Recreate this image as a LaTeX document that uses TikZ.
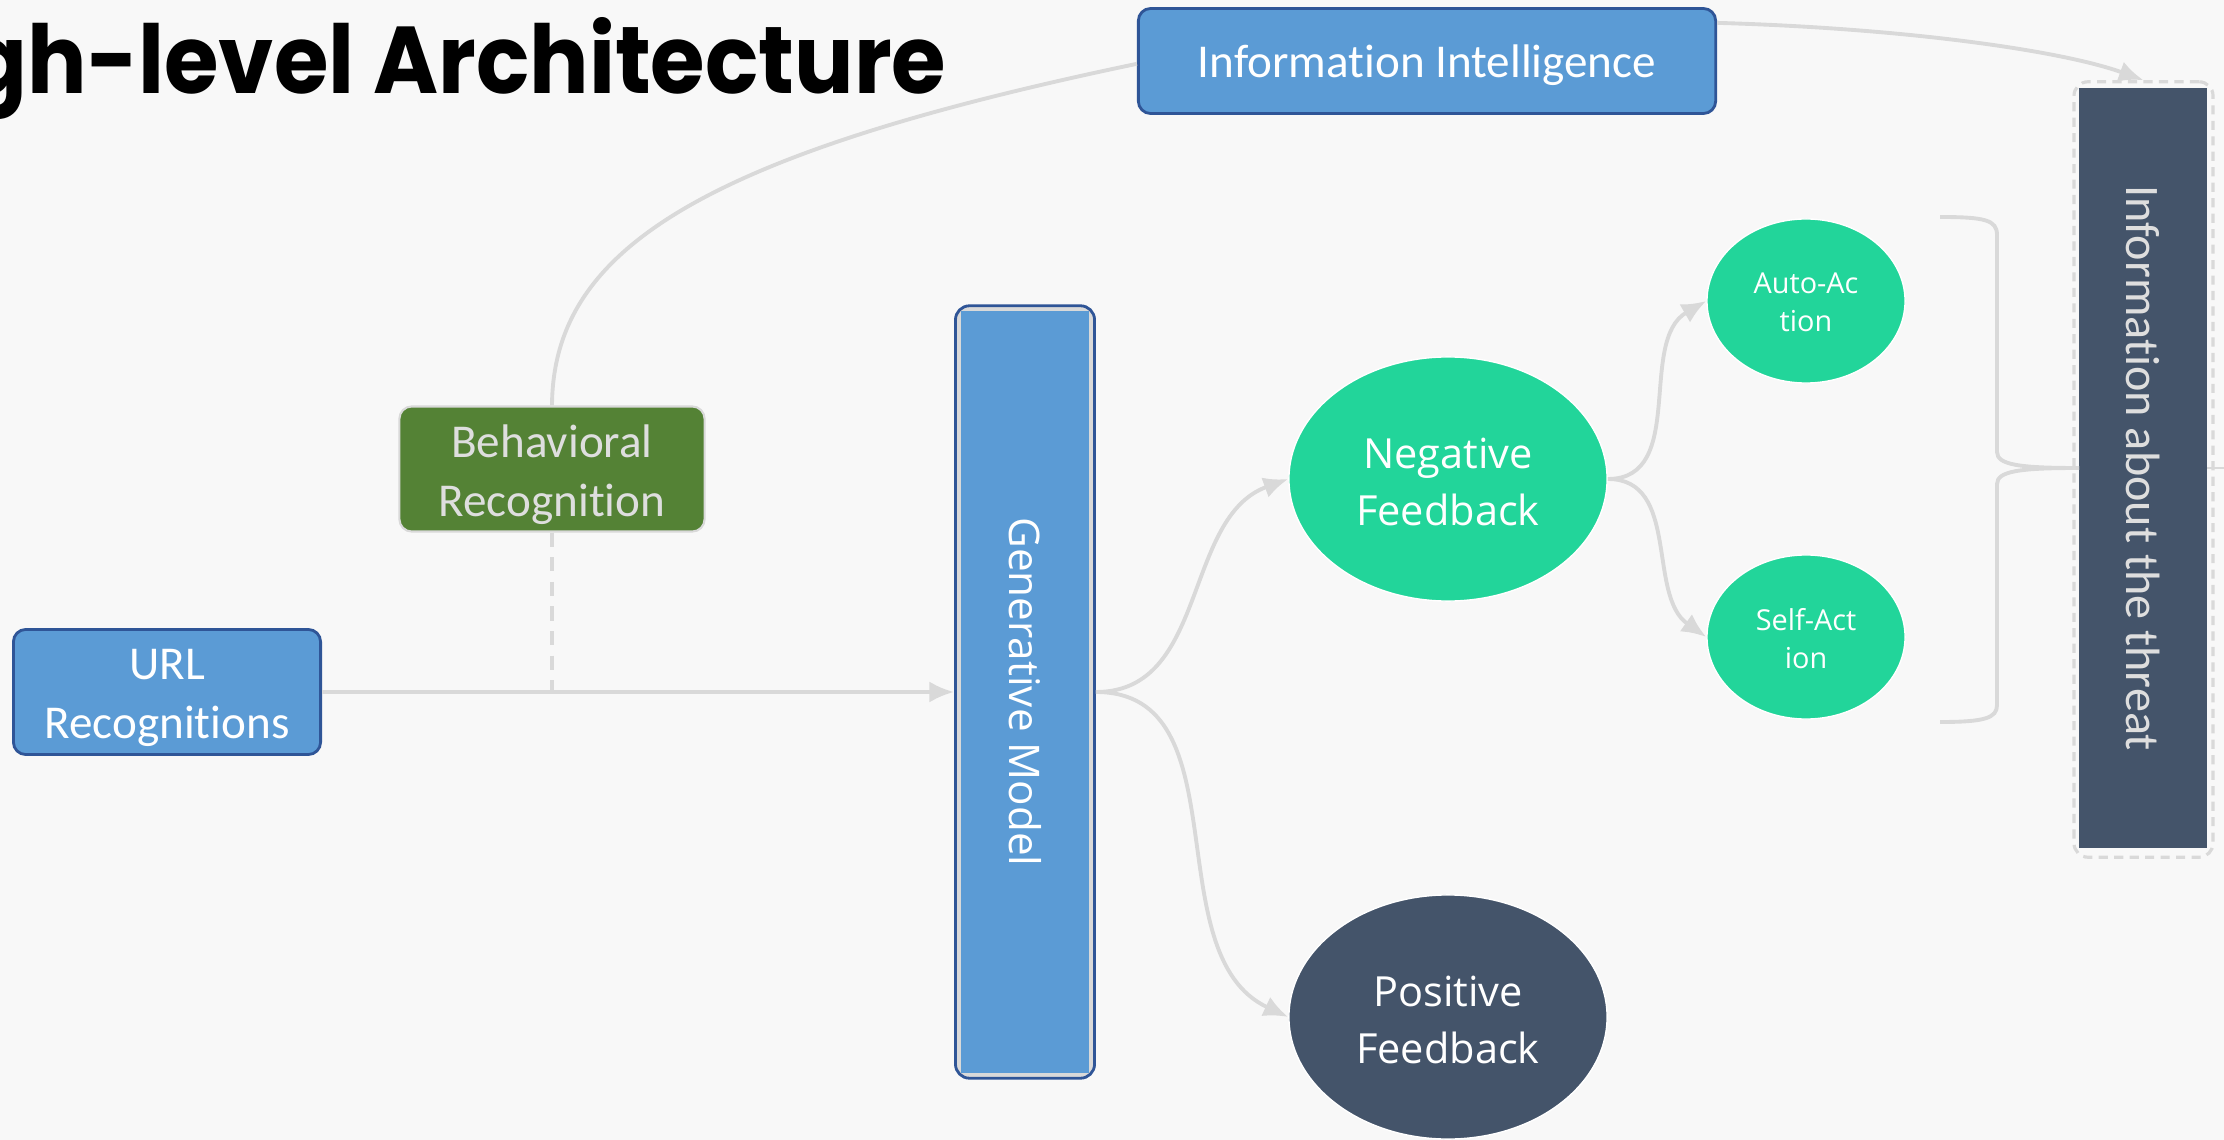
\documentclass[tikz,border=0pt]{standalone}
\usepackage{fontspec}
\setmainfont{Carlito}[Ligatures=NoCommon]
\newfontfamily\osans{Open Sans}
\newfontfamily\titlefont{Poppins}[FakeStretch=0.93]
\usetikzlibrary{arrows.meta,shapes.geometric}
\definecolor{bgc}{HTML}{F8F8F8}
\definecolor{blu}{HTML}{5B9BD5}
\definecolor{bluedge}{HTML}{2F5597}
\definecolor{grn}{HTML}{548235}
\definecolor{tealg}{HTML}{22D59A}
\definecolor{slate}{HTML}{44546A}
\definecolor{lineg}{HTML}{D9D9D9}
\definecolor{lighttxt}{HTML}{DEDEDE}
\begin{document}
\begin{tikzpicture}[x=0.01cm,y=-0.01cm,
  bluebox/.style={draw=bluedge, line width=0.8pt, fill=blu, rounded corners=3.5pt, inner sep=0pt},
  greenbox/.style={draw=lineg, line width=0.6pt, fill=grn, rounded corners=3.5pt, inner sep=0pt},
  boxtext/.style={text=white, font=\fontsize{13.4}{16.8}\selectfont, align=center, inner sep=0pt},
  gmouter/.style={draw=bluedge, line width=0.8pt, fill=lineg, rounded corners=4pt, inner sep=0pt},
  ell/.style={ellipse, draw=white, line width=0.4pt, inner sep=0pt},
  elltext/.style={text=white, align=center, inner sep=0pt, font=\osans\fontsize{11.8}{16.2}\selectfont},
  smalltext/.style={elltext, font=\osans\fontsize{8.2}{10.8}\selectfont},
  conn/.style={draw=lineg, line width=1.1pt},
  arr/.style={conn, -{Latex[length=7pt,width=6pt]}},
  vtext/.style={rotate=-90, inner sep=0pt}
]
\useasboundingbox (0,0) rectangle (2224,1140);
\fill[bgc] (0,0) rectangle (2224,1140);
\clip (0,0) rectangle (2224,1140);

% title
\node[anchor=base east, inner sep=0pt, font=\titlefont\bfseries\fontsize{27}{30}\selectfont] (title) at (947,94) {High-level Architecture};

% thin line through threat box (behind)
\coordinate (tip) at (2079,468);
\coordinate (redge) at (2224,468);
\draw[draw=lineg, line width=0.5pt] (tip) -- (redge);

% boxes
\node[bluebox, minimum width=5.77cm, minimum height=1.05cm] (ii) at (1427,61) {};
\node[boxtext] (iit) at ([yshift=-1.2pt]ii.center) {Information Intelligence};
\node[greenbox, minimum width=3.05cm, minimum height=1.25cm] (br) at (552,469) {};
\node[boxtext, text=lighttxt] (brt) at ([yshift=-1.7pt]br.center) {Behavioral\\Recognition};
\node[bluebox, minimum width=3.07cm, minimum height=1.25cm] (url) at (167,692) {};
\node[boxtext] (urlt) at ([yshift=-1.7pt]url.center) {URL\\Recognitions};

\node[gmouter, minimum width=1.39cm, minimum height=7.72cm] (gm) at (1025,692) {};
\fill[blu] ([xshift=2pt,yshift=-2pt]gm.north west) rectangle ([xshift=-2pt,yshift=2pt]gm.south east);
\node[vtext, text=white, font=\osans\fontsize{12}{14}\selectfont] (gmt) at (gm.center) {Generative Model};

% ellipses
\node[ell, fill=tealg, minimum width=3.18cm, minimum height=2.44cm] (neg) at (1448,479) {};
\node[elltext] (negt) at ([yshift=-0.9pt]neg.center) {Negative\\Feedback};
\node[ell, fill=slate, minimum width=3.18cm, minimum height=2.44cm] (pos) at (1448,1017) {};
\node[elltext] (post) at ([yshift=-0.9pt]pos.center) {Positive\\Feedback};
\node[ell, fill=tealg, minimum width=1.98cm, minimum height=1.64cm] (auto) at (1806,301) {};
\node[smalltext] (autot) at ([yshift=-0.4pt]auto.center) {Auto-Ac\\tion};
\node[ell, fill=tealg, minimum width=1.98cm, minimum height=1.64cm] (self) at (1806,637) {};
\node[smalltext] (selft) at ([yshift=-0.4pt]self.center) {Self-Act\\ion};

% threat box
\node[draw=lineg, dash pattern=on 2.6pt off 1.8pt, line width=0.9pt, rounded corners=4pt,
  minimum width=1.39cm, minimum height=7.75cm, inner sep=0pt] (thro) at (2143.5,469.5) {};
\node[fill=slate, minimum width=1.28cm, minimum height=7.6cm, inner sep=0pt] (thr) at (2143,468) {};
\node[vtext, text=lighttxt, font=\fontsize{13.7}{16}\selectfont] (thrt) at (thr.center) {Information about the threat};

% connectors
\draw[conn] ([yshift=-0.8pt]ii.west) .. controls (700,155) and (553,250) .. (br.north);
\draw[arr] ([yshift=-4.5pt]ii.north east) .. controls (1900,28) and (2060,50) .. (thro.north);
\draw[arr] (url.east) -- (gm.west);
\draw[conn, dash pattern=on 4pt off 3pt] (br.south) -- (br.south |- url.east);
\draw[arr] (gm.east) to[out=0,in=200] (neg.west);
\draw[arr] (gm.east) to[out=0,in=155] (pos.west);
\draw[arr] (neg.east) to[out=0,in=210] (auto.west);
\draw[arr] (neg.east) to[out=0,in=145] (self.west);

% brace
\draw[conn] (1940,217) .. controls (1985,217) and (1997,220) .. (1997,235) -- (1997,452)
  .. controls (1997,465) and (2020,468) .. (tip);
\draw[conn] (tip) .. controls (2020,468) and (1997,471) .. (1997,484) -- (1997,705)
  .. controls (1997,718) and (1985,722) .. (1940,722);
\end{tikzpicture}
\end{document}
